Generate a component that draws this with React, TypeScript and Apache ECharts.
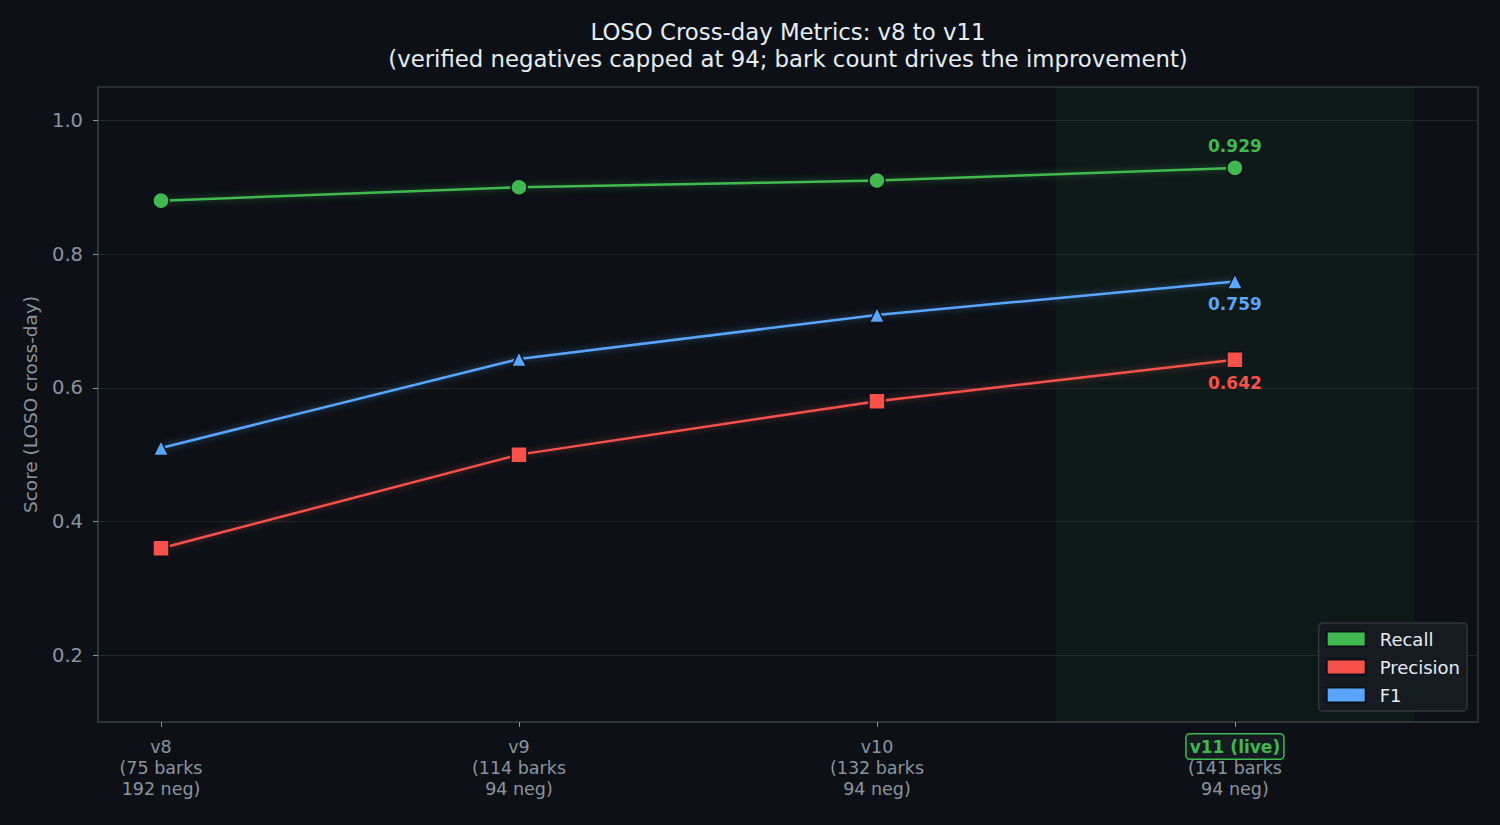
import React, { useEffect, useRef } from "react";
import * as echarts from "echarts";

const categories = ["v8", "v9", "v10", "v11 (live)"];
const barks = [75, 114, 132, 141];
const negs = [192, 94, 94, 94];
const recall = [0.88, 0.9, 0.91, 0.929];
const precision = [0.36, 0.5, 0.58, 0.642];
const f1 = [0.51, 0.643, 0.709, 0.759];
const yTicks = [0.2, 0.4, 0.6, 0.8, 1.0];
const xTicks = [0, 1, 2, 3];
const liveBand = [2.5, 3.5];
const liveIndex = 3;

const FONT = "DejaVu Sans";
const BG = "#0d1117";
const GRAY = "#8b949e";
const GREEN = "#3fb950";
const RED = "#f85149";
const BLUE = "#58a6ff";

function alpha(hex: string, a: number) {
  const n = parseInt(hex.slice(1), 16);
  return `rgba(${(n >> 16) & 255},${(n >> 8) & 255},${n & 255},${a})`;
}

function makeSeries(
  name: string,
  vals: number[],
  color: string,
  symbol: string,
  size: number,
  labelPos: "top" | "bottom",
  extra: any = {}
) {
  return {
    type: "line",
    name,
    symbol,
    symbolSize: size,
    itemStyle: { color, borderColor: BG, borderWidth: 1.5 },
    lineStyle: { color, width: 2.5, shadowBlur: 6, shadowColor: alpha(color, 0.45) },
    data: vals.map((v, i) =>
      i === vals.length - 1
        ? {
            value: [i, v],
            label: {
              show: true,
              position: labelPos,
              distance: labelPos === "top" ? 5 : 6,
              formatter: v.toFixed(3),
              color,
              fontWeight: "bold",
              fontSize: 17,
              fontFamily: FONT,
            },
          }
        : [i, v]
    ),
    ...extra,
  };
}

export default function App() {
  const ref = useRef<HTMLDivElement>(null);
  useEffect(() => {
    if (!ref.current) return;
    const chart = echarts.init(ref.current, null, { renderer: "svg" });
    const option: any = {
      animation: false,
      backgroundColor: BG,
      textStyle: { fontFamily: FONT },
      graphic: [
        {
          type: "text",
          x: 788,
          y: 18,
          style: {
            text:
              "LOSO Cross-day Metrics: v8 to v11\n(verified negatives capped at 94; bark count drives the improvement)",
            fill: "#e6edf3",
            fontSize: 22.8,
            fontFamily: FONT,
            lineHeight: 27,
            align: "center",
            verticalAlign: "top",
          },
        },
      ],
      grid: {
        left: 98,
        right: 22,
        top: 87,
        bottom: 103,
        show: true,
        backgroundColor: BG,
        borderColor: "#30363d",
        borderWidth: 1.5,
      },
      legend: {
        orient: "vertical",
        right: 33,
        top: 623,
        icon: "rect",
        itemWidth: 39,
        itemHeight: 15,
        itemGap: 10,
        padding: [7, 7, 7, 7],
        backgroundColor: "#161b22",
        borderColor: "#30363d",
        borderWidth: 1.5,
        borderRadius: 4,
        textStyle: { color: "#e6edf3", fontSize: 18, fontFamily: FONT, padding: [0, 0, 0, 9] },
        data: ["Recall", "Precision", "F1"],
      },
      xAxis: {
        type: "value",
        min: -0.176,
        max: 3.679,
        axisLine: { show: true, onZero: false, lineStyle: { color: "#30363d", width: 1.5 } },
        axisTick: { show: true, customValues: xTicks, length: 5, lineStyle: { color: GRAY } },
        splitLine: { show: false },
        axisLabel: {
          customValues: xTicks,
          margin: 14,
          formatter: (v: number) => {
            const i = Math.round(v);
            const name = categories[i];
            const first = i === liveIndex ? `{live|${name}}` : `{sub|${name}}`;
            return `${first}\n{sub|(${barks[i]} barks}\n{sub|${negs[i]} neg)}`;
          },
          rich: {
            sub: { color: GRAY, fontSize: 17.5, lineHeight: 21, fontFamily: FONT, align: "center" },
            live: {
              color: GREEN,
              fontSize: 17,
              fontWeight: "bold",
              fontFamily: FONT,
              lineHeight: 21,
              borderColor: GREEN,
              borderWidth: 1.5,
              borderRadius: 3,
              padding: [4, 3, 3, 3],
              backgroundColor: "#161b22",
              align: "center",
            },
          },
        },
      },
      yAxis: {
        type: "value",
        min: 0.1,
        max: 1.05,
        name: "Score (LOSO cross-day)",
        nameLocation: "middle",
        nameGap: 58,
        nameTextStyle: { color: GRAY, fontSize: 18.5, fontFamily: FONT },
        axisLine: { show: true, onZero: false, lineStyle: { color: "#30363d", width: 1.5 } },
        axisTick: { show: true, customValues: yTicks, length: 5, lineStyle: { color: GRAY } },
        splitLine: { show: true, lineStyle: { color: "#21262d", width: 1 } },
        axisLabel: {
          customValues: yTicks,
          color: GRAY,
          fontSize: 19.5,
          fontFamily: FONT,
          margin: 15,
          formatter: (v: number) => v.toFixed(1),
        },
      },
      series: [
        makeSeries("Recall", recall, GREEN, "circle", 16, "top", {
          markArea: {
            silent: true,
            itemStyle: { color: alpha(GREEN, 0.05) },
            data: [[{ xAxis: liveBand[0] }, { xAxis: liveBand[1] }]],
          },
        }),
        makeSeries("Precision", precision, RED, "rect", 16, "bottom"),
        makeSeries("F1", f1, BLUE, "triangle", 15, "bottom"),
      ],
    };
    chart.setOption(option);
    return () => chart.dispose();
  }, []);
  return (
    <div
      ref={ref}
      style={{ position: "fixed", left: 0, top: 0, width: 1500, height: 825 }}
    />
  );
}
